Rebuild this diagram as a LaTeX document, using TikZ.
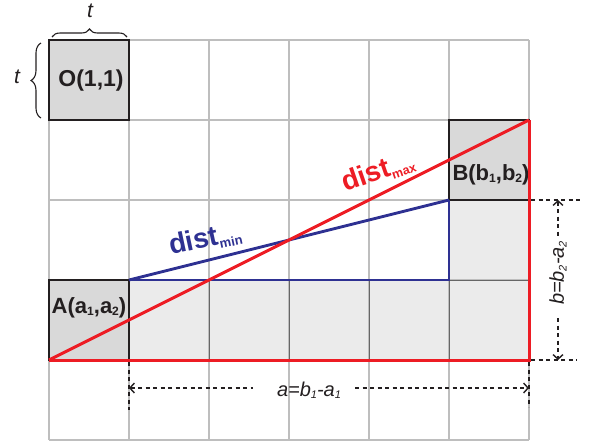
\documentclass[tikz,border=0pt]{standalone}
\usepackage{fontspec}
\setmainfont{Liberation Sans}
\usetikzlibrary{arrows.meta,decorations.pathreplacing}
\definecolor{rd}{HTML}{ED1C24}
\definecolor{bl}{HTML}{2E3192}
\definecolor{boxgray}{HTML}{D9D9D9}
\definecolor{lightfill}{HTML}{EBEBEB}
\definecolor{gridgray}{HTML}{BEBEBE}
\definecolor{ink}{HTML}{231F20}
\newcommand{\smallsub}[1]{\raisebox{-0.13em}{\scalebox{0.55}{#1}}}
\tikzset{dimtip/.tip={Straight Barb[length=4.5pt,width=10pt,line width=1.4pt]}}
\begin{document}
\begin{tikzpicture}[x=1pt,y=-1pt,
  gridline/.style={draw=gridgray, line width=1.1pt},
  innergrid/.style={draw=black!60, line width=0.8pt},
  cellbox/.style={draw=ink, line width=2.7pt, fill=boxgray, minimum size=80pt, inner sep=0pt, outer sep=0pt},
  boxlabel/.style={font=\fontsize{22}{22}\selectfont\bfseries, text=ink, inner sep=0pt, anchor=base},
  redline/.style={draw=rd, line width=3pt, line join=miter},
  blueline/.style={draw=bl, line width=2.9pt, line join=miter},
  dimline/.style={draw=ink, line width=1.4pt, dash pattern=on 4pt off 3.5pt},
  bracestyle/.style={draw=ink, line width=1.1pt, decorate},
  tlabel/.style={font=\fontsize{21}{21}\selectfont\itshape, text=ink, inner sep=0pt, anchor=base},
  dimlabel/.style={font=\fontsize{20}{20}\selectfont\itshape, text=ink, inner sep=0pt},
  distlabel/.style={font=\fontsize{28}{28}\selectfont\bfseries, inner sep=0pt, anchor=base west}
]
\useasboundingbox (0,0) rectangle (590,445);
% shaded region
\fill[lightfill] (129,280) rectangle (529,360);
\fill[lightfill] (449,200) rectangle (529,280);
% grid
\foreach \i in {0,...,6} \draw[gridline] (49+80*\i,40) -- (49+80*\i,440);
\foreach \j in {0,...,5} \draw[gridline] (49,40+80*\j) -- (529,40+80*\j);
\foreach \i in {2,...,5} \draw[innergrid] (49+80*\i,280) -- (49+80*\i,360);
\draw[innergrid] (449,280) -- (529,280);
% boxes
\node[cellbox] (O) at (89,80) {};
\node[cellbox] (A) at (89,320) {};
\node[cellbox] (B) at (489,160) {};
\node[boxlabel, font=\fontsize{23}{23}\selectfont\bfseries] (Ot) at (91,86) {O(1,1)};
\node[boxlabel] (At) at (89,313) {A(a\smallsub{1},a\smallsub{2})};
\node[boxlabel] (Bt) at (491,180) {B(b\smallsub{1},b\smallsub{2})};
% braces
\draw[bracestyle, decoration={brace, amplitude=8pt}] (52,37) -- (127,37);
\draw[bracestyle, decoration={brace, amplitude=10pt}] (41,118) -- (41,43);
\node[tlabel] (ttop) at (90,17) {t};
\node[tlabel] (tleft) at (17,83) {t};
% blue (dist min)
\draw[blueline] (A.north east) -- (A.north east -| B.south west) -- (B.south west);
\draw[blueline] (A.north east) -- (B.south west);
% red (dist max)
\draw[redline] (A.south west) -- (A.south west -| B.north east) -- (B.north east);
\draw[redline] (A.south west) -- (B.north east);
\node[distlabel, text=bl, rotate=12] (dmin) at (171,255) {dist\raisebox{-4pt}{\fontsize{13}{13}\selectfont min}};
\node[distlabel, text=rd, rotate=19] (dmax) at (345,192) {dist\raisebox{-4pt}{\fontsize{12.5}{12.5}\selectfont max}};
% horizontal dimension
\coordinate (hx1) at (129,362);
\coordinate (hx1e) at (129,410);
\coordinate (hx2) at (529,362);
\coordinate (hx2e) at (529,407);
\coordinate (hL) at (129,388);
\coordinate (hLg) at (253,388);
\coordinate (hR) at (529,388);
\coordinate (hRg) at (355,388);
\draw[dimline] (hx1) -- (hx1e);
\draw[dimline] (hx2) -- (hx2e);
\draw[dimline, dimtip-] (hL) -- (hLg);
\draw[dimline, -dimtip] (hRg) -- (hR);
\node[dimlabel, anchor=base] (alab) at (309,396) {a=b\smallsub{1}-a\smallsub{1}};
% vertical dimension
\coordinate (vy1) at (531,200);
\coordinate (vy1e) at (580,200);
\coordinate (vy2) at (531,360);
\coordinate (vy2e) at (577,360);
\coordinate (vT) at (558,200);
\coordinate (vTg) at (558,236);
\coordinate (vB) at (558,360);
\coordinate (vBg) at (558,318);
\draw[dimline] (vy1) -- (vy1e);
\draw[dimline] (vy2) -- (vy2e);
\draw[dimline, dimtip-] (vT) -- (vTg);
\draw[dimline, -dimtip] (vBg) -- (vB);
\node[dimlabel, rotate=90] (blab) at (558,273) {b=b\smallsub{2}-a\smallsub{2}};
\end{tikzpicture}
\end{document}
